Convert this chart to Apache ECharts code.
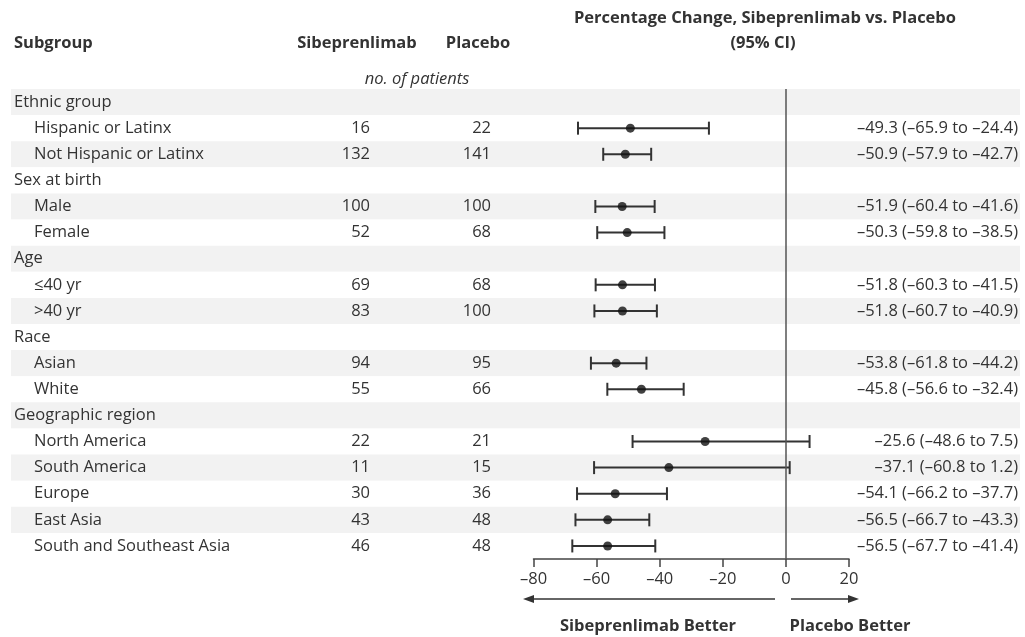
<!DOCTYPE html>
<html>
<head>
<meta charset="utf-8">
<script src="https://cdn.jsdelivr.net/npm/echarts@6/dist/echarts.min.js"></script>
<style>
html,body{margin:0;padding:0;background:#fff;}
#main{width:1025px;height:637px;}
</style>
</head>
<body>
<div id="main"></div>
<script>
// rows of the forest plot (top to bottom)
var subgroups = ['Ethnic group','Hispanic or Latinx','Not Hispanic or Latinx','Sex at birth','Male','Female','Age','≤40 yr','>40 yr','Race','Asian','White','Geographic region','North America','South America','Europe','East Asia','South and Southeast Asia'];
var isHeader = [1,0,0,1,0,0,1,0,0,1,0,0,1,0,0,0,0,0];
var sibN = ['',16,132,'',100,52,'',69,83,'',94,55,'',22,11,30,43,46];
var plaN = ['',22,141,'',100,68,'',68,100,'',95,66,'',21,15,36,48,48];
var est  = [null,-49.3,-50.9,null,-51.9,-50.3,null,-51.8,-51.8,null,-53.8,-45.8,null,-25.6,-37.1,-54.1,-56.5,-56.5];
var low  = [null,-65.9,-57.9,null,-60.4,-59.8,null,-60.3,-60.7,null,-61.8,-56.6,null,-48.6,-60.8,-66.2,-66.7,-67.7];
var high = [null,-24.4,-42.7,null,-41.6,-38.5,null,-41.5,-40.9,null,-44.2,-32.4,null,7.5,1.2,-37.7,-43.3,-41.4];

var FONT = 'Open Sans';
var FS = 16.5;
var TXT = '#333333';

function dash(v) {
    return (v < 0 ? '–' : '') + Math.abs(v).toFixed(1);
}
var ciText = est.map(function(e, i) {
    if (e === null) return '';
    return dash(e) + ' (' + dash(low[i]) + ' to ' + dash(high[i]) + ')';
});

var barData = [];
var dotData = [];
est.forEach(function(e, i) {
    if (e === null) return;
    barData.push([low[i], high[i], i]);
    dotData.push([e, i]);
});

var myChart = echarts.init(document.getElementById('main'));

function txt(text, x, y, align, weight, style) {
    return {
        type: 'text', x: x, y: y, silent: true,
        style: {
            text: text, align: align, verticalAlign: 'middle',
            font: (style || 'normal') + ' ' + (weight || 'normal') + ' ' + FS + 'px "' + FONT + '"',
            fill: TXT
        }
    };
}
function arrowHead(tipX, y, dir) {
    return {
        type: 'polygon', silent: true,
        shape: { points: [[tipX, y], [tipX - dir * 11, y - 4], [tipX - dir * 11, y + 4]] },
        style: { fill: '#333' }
    };
}

var option = {
    animation: false,
    grid: [
        { left: 11, right: 5, top: 89, height: 470 },
        { left: 533.5, right: 176, top: 89, height: 470 }
    ],
    xAxis: [
        { gridIndex: 0, type: 'value', min: 0, max: 1, show: false },
        {
            gridIndex: 1, type: 'value', min: -80, max: 20, interval: 20,
            axisLine: { show: true, onZero: false, lineStyle: { color: '#444', width: 1.5 } },
            axisTick: { show: true, length: 8, lineStyle: { color: '#444', width: 1.5 } },
            splitLine: { show: false },
            axisLabel: {
                margin: 12, color: TXT, fontFamily: FONT, fontSize: FS,
                formatter: function(v) { return String(v).replace('-', '–'); }
            }
        }
    ],
    yAxis: [
        {
            gridIndex: 0, type: 'category', inverse: true, data: subgroups,
            axisLine: { show: false }, axisTick: { show: false },
            splitArea: { show: true, areaStyle: { color: ['#f2f2f2', '#ffffff'] } },
            axisLabel: {
                align: 'left', margin: -3, color: TXT, fontFamily: FONT, fontSize: FS,
                formatter: function(v, i) {
                    return isHeader[i] ? '{h|' + v + '}' : '{i|' + v + '}';
                },
                rich: {
                    h: { fontFamily: FONT, fontSize: FS, color: TXT },
                    i: { fontFamily: FONT, fontSize: FS, color: TXT, padding: [0, 0, 0, 20] }
                }
            }
        },
        {
            gridIndex: 0, type: 'category', inverse: true, data: subgroups, position: 'left', offset: -359,
            axisLine: { show: false }, axisTick: { show: false },
            axisLabel: {
                align: 'right', margin: 0, color: TXT, fontFamily: FONT, fontSize: FS,
                formatter: function(v, i) { return String(sibN[i]); }
            }
        },
        {
            gridIndex: 0, type: 'category', inverse: true, data: subgroups, position: 'left', offset: -480,
            axisLine: { show: false }, axisTick: { show: false },
            axisLabel: {
                align: 'right', margin: 0, color: TXT, fontFamily: FONT, fontSize: FS,
                formatter: function(v, i) { return String(plaN[i]); }
            }
        },
        {
            gridIndex: 0, type: 'category', inverse: true, data: subgroups, position: 'right', offset: 0,
            axisLine: { show: false }, axisTick: { show: false },
            axisLabel: {
                align: 'right', margin: -2, color: TXT, fontFamily: FONT, fontSize: FS,
                formatter: function(v, i) { return ciText[i]; }
            }
        },
        {
            gridIndex: 1, type: 'category', inverse: true, data: subgroups, show: false
        }
    ],
    graphic: [
        txt('Percentage Change, Sibeprenlimab vs. Placebo', 765, 18, 'center', 'bold'),
        txt('(95% CI)', 763, 43, 'center', 'bold'),
        txt('Subgroup', 14, 43, 'left', 'bold'),
        txt('Sibeprenlimab', 357, 43, 'center', 'bold'),
        txt('Placebo', 478, 43, 'center', 'bold'),
        txt('no. of patients', 417, 79, 'center', 'normal', 'italic'),
        txt('Sibeprenlimab Better', 648, 626, 'center', 'bold'),
        txt('Placebo Better', 850, 626, 'center', 'bold'),
        { type: 'line', silent: true, shape: { x1: 775, y1: 599, x2: 530, y2: 599 }, style: { stroke: '#333', lineWidth: 1.5 } },
        arrowHead(523, 599, -1),
        { type: 'line', silent: true, shape: { x1: 791, y1: 599, x2: 852, y2: 599 }, style: { stroke: '#333', lineWidth: 1.5 } },
        arrowHead(859, 599, 1)
    ],
    series: [
        {
            type: 'custom', xAxisIndex: 1, yAxisIndex: 4, data: barData,
            renderItem: function(params, api) {
                var p1 = api.coord([api.value(0), api.value(2)]);
                var p2 = api.coord([api.value(1), api.value(2)]);
                var st = { stroke: '#333', lineWidth: 2 };
                return {
                    type: 'group',
                    children: [
                        { type: 'line', shape: { x1: p1[0], y1: p1[1], x2: p2[0], y2: p2[1] }, style: st },
                        { type: 'line', shape: { x1: p1[0], y1: p1[1] - 6.5, x2: p1[0], y2: p1[1] + 6.5 }, style: st },
                        { type: 'line', shape: { x1: p2[0], y1: p2[1] - 6.5, x2: p2[0], y2: p2[1] + 6.5 }, style: st }
                    ]
                };
            },
            markLine: {
                silent: true, symbol: ['none', 'none'], label: { show: false },
                lineStyle: { color: '#555', width: 1.5, type: 'solid' },
                data: [{ xAxis: 0 }]
            },
            z: 3
        },
        {
            type: 'scatter', xAxisIndex: 1, yAxisIndex: 4, data: dotData,
            symbol: 'circle', symbolSize: 9, itemStyle: { color: '#111' }, z: 4
        }
    ]
};
myChart.setOption(option);
</script>
</body>
</html>
